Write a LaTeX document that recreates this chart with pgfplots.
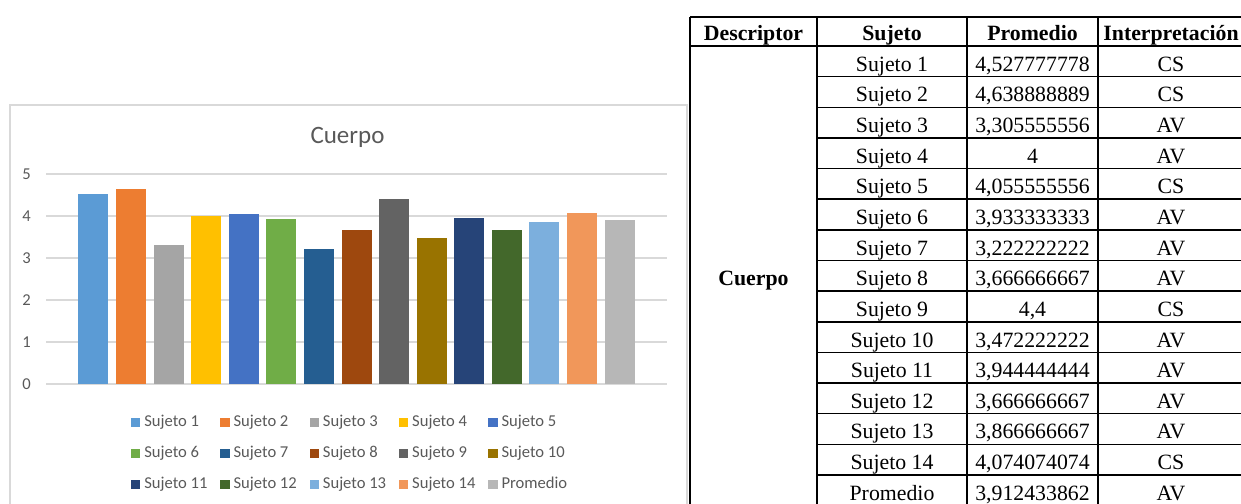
\documentclass[border=0pt]{standalone}
\usepackage{pgfplots}
\usepackage{pgfplotstable}
\pgfplotsset{compat=1.18}
\usepackage{fontspec}
\setmainfont{Liberation Serif}
\newfontfamily\calibri{Carlito}

% Office palette, one colour per subject
\definecolor{s1}{HTML}{5B9BD5}
\definecolor{s2}{HTML}{ED7D31}
\definecolor{s3}{HTML}{A5A5A5}
\definecolor{s4}{HTML}{FFC000}
\definecolor{s5}{HTML}{4472C4}
\definecolor{s6}{HTML}{70AD47}
\definecolor{s7}{HTML}{255E91}
\definecolor{s8}{HTML}{9E480E}
\definecolor{s9}{HTML}{636363}
\definecolor{s10}{HTML}{997300}
\definecolor{s11}{HTML}{264478}
\definecolor{s12}{HTML}{43682B}
\definecolor{s13}{HTML}{7CAFDD}
\definecolor{s14}{HTML}{F1975A}
\definecolor{s15}{HTML}{B7B7B7}
\definecolor{gristexto}{HTML}{595959}
\definecolor{rejilla}{HTML}{D9D9D9}

% Descriptor "Cuerpo": mean per subject and interpretation
\pgfplotstableread[col sep=semicolon]{
nombre;valor;texto;interp
Sujeto 1;4.527777778;4,527777778;CS
Sujeto 2;4.638888889;4,638888889;CS
Sujeto 3;3.305555556;3,305555556;AV
Sujeto 4;4;4;AV
Sujeto 5;4.055555556;4,055555556;CS
Sujeto 6;3.933333333;3,933333333;AV
Sujeto 7;3.222222222;3,222222222;AV
Sujeto 8;3.666666667;3,666666667;AV
Sujeto 9;4.4;4,4;CS
Sujeto 10;3.472222222;3,472222222;AV
Sujeto 11;3.944444444;3,944444444;AV
Sujeto 12;3.666666667;3,666666667;AV
Sujeto 13;3.866666667;3,866666667;AV
Sujeto 14;4.074074074;4,074074074;CS
Promedio;3.912433862;3,912433862;AV
}\cuerpo

% one bar (one series) per table row: #1 row index, #2 = #1+1, #3 colour, #4 legend text
\newcommand\barra[4]{%
  \addplot[ybar, bar width=30bp, bar shift=0pt, fill=#3, draw=none,
    legend image code/.code={\fill[#3] (0bp,-4.6bp) rectangle (9.3bp,4.6bp);}]
    table[x expr=\coordindex+1, y=valor,
          skip coords between index={0}{#1},
          skip coords between index={#2}{15}] {\cuerpo};
  \addlegendentry{\makebox[76bp][l]{#4}}}

\newcommand\tabfont{\fontsize{21.8bp}{26bp}\selectfont}
\newcommand\chartfont{\calibri\fontsize{16.6bp}{20bp}\selectfont}

\begin{document}
\begin{tikzpicture}[x=1bp,y=1bp]
\useasboundingbox (0,0) rectangle (1241,504);

% chart frame
\draw[rejilla, line width=1.2bp] (10,399) rectangle (687,-10);

\begin{axis}[
  at={(46bp,120bp)}, anchor=south west, scale only axis,
  width=621bp, height=210bp,
  xmin=-0.26, xmax=16.26, ymin=0, ymax=5,
  ytick={0,1,2,3,4,5}, xtick=\empty,
  ymajorgrids, grid style={rejilla, line width=1.2bp},
  axis line style={draw=none}, major tick length=0pt,
  /pgf/number format/assume math mode=true,
  tick label style={font=\chartfont, text=gristexto},
  yticklabel style={inner sep=0pt, xshift=-15bp},
  title={Cuerpo},
  title style={font=\calibri\fontsize{25bp}{30bp}\selectfont, text=gristexto,
    at={(0.5,1)}, anchor=center, yshift=31bp, xshift=-9bp},
  legend columns=5, legend cell align=left,
  legend style={draw=none, fill=none, inner sep=0pt, outer sep=0pt,
    at={(0.1369,-0.151)}, anchor=north west,
    font=\chartfont, text=gristexto,
    nodes={inner sep=0pt, text height=11bp, text depth=3bp},
    row sep=17bp,
    /tikz/every odd column/.append style={column sep=4bp}},
]
\barra{0}{1}{s1}{Sujeto 1}
\barra{1}{2}{s2}{Sujeto 2}
\barra{2}{3}{s3}{Sujeto 3}
\barra{3}{4}{s4}{Sujeto 4}
\barra{4}{5}{s5}{Sujeto 5}
\barra{5}{6}{s6}{Sujeto 6}
\barra{6}{7}{s7}{Sujeto 7}
\barra{7}{8}{s8}{Sujeto 8}
\barra{8}{9}{s9}{Sujeto 9}
\barra{9}{10}{s10}{Sujeto 10}
\barra{10}{11}{s11}{Sujeto 11}
\barra{11}{12}{s12}{Sujeto 12}
\barra{12}{13}{s13}{Sujeto 13}
\barra{13}{14}{s14}{Sujeto 14}
\barra{14}{15}{s15}{Promedio}
\end{axis}

% ---- table ----
\begin{scope}[line width=1.5bp]
  \draw (690,487) -- (1245,487);
  \draw (690,458) -- (1245,458);
  \foreach \k in {1,...,14}
    \draw (817,{458-30.64*\k}) -- (1245,{458-30.64*\k});
  \foreach \xv in {690,817,967,1098}
    \draw (\xv,487) -- (\xv,-5);
\end{scope}

\node[anchor=base, font=\tabfont\bfseries] at (753.5,463) {Descriptor};
\node[anchor=base, font=\tabfont\bfseries] at (892,463) {Sujeto};
\node[anchor=base, font=\tabfont\bfseries] at (1032.5,463) {Promedio};
\node[anchor=base, font=\tabfont\bfseries] at (1171,463) {Interpretación};
\node[anchor=base, font=\tabfont\bfseries] at (753.5,218) {Cuerpo};

\foreach \i in {0,...,14} {
  \pgfmathsetmacro\yb{458-30.64*(\i+0.5)-10}
  \pgfplotstablegetelem{\i}{nombre}\of\cuerpo \let\nom\pgfplotsretval
  \pgfplotstablegetelem{\i}{texto}\of\cuerpo \let\val\pgfplotsretval
  \pgfplotstablegetelem{\i}{interp}\of\cuerpo \let\itp\pgfplotsretval
  \node[anchor=base, font=\tabfont] at (892,\yb) {\nom};
  \node[anchor=base, font=\tabfont] at (1032.5,\yb) {\val};
  \node[anchor=base, font=\tabfont] at (1171,\yb) {\itp};
}
\end{tikzpicture}
\end{document}
